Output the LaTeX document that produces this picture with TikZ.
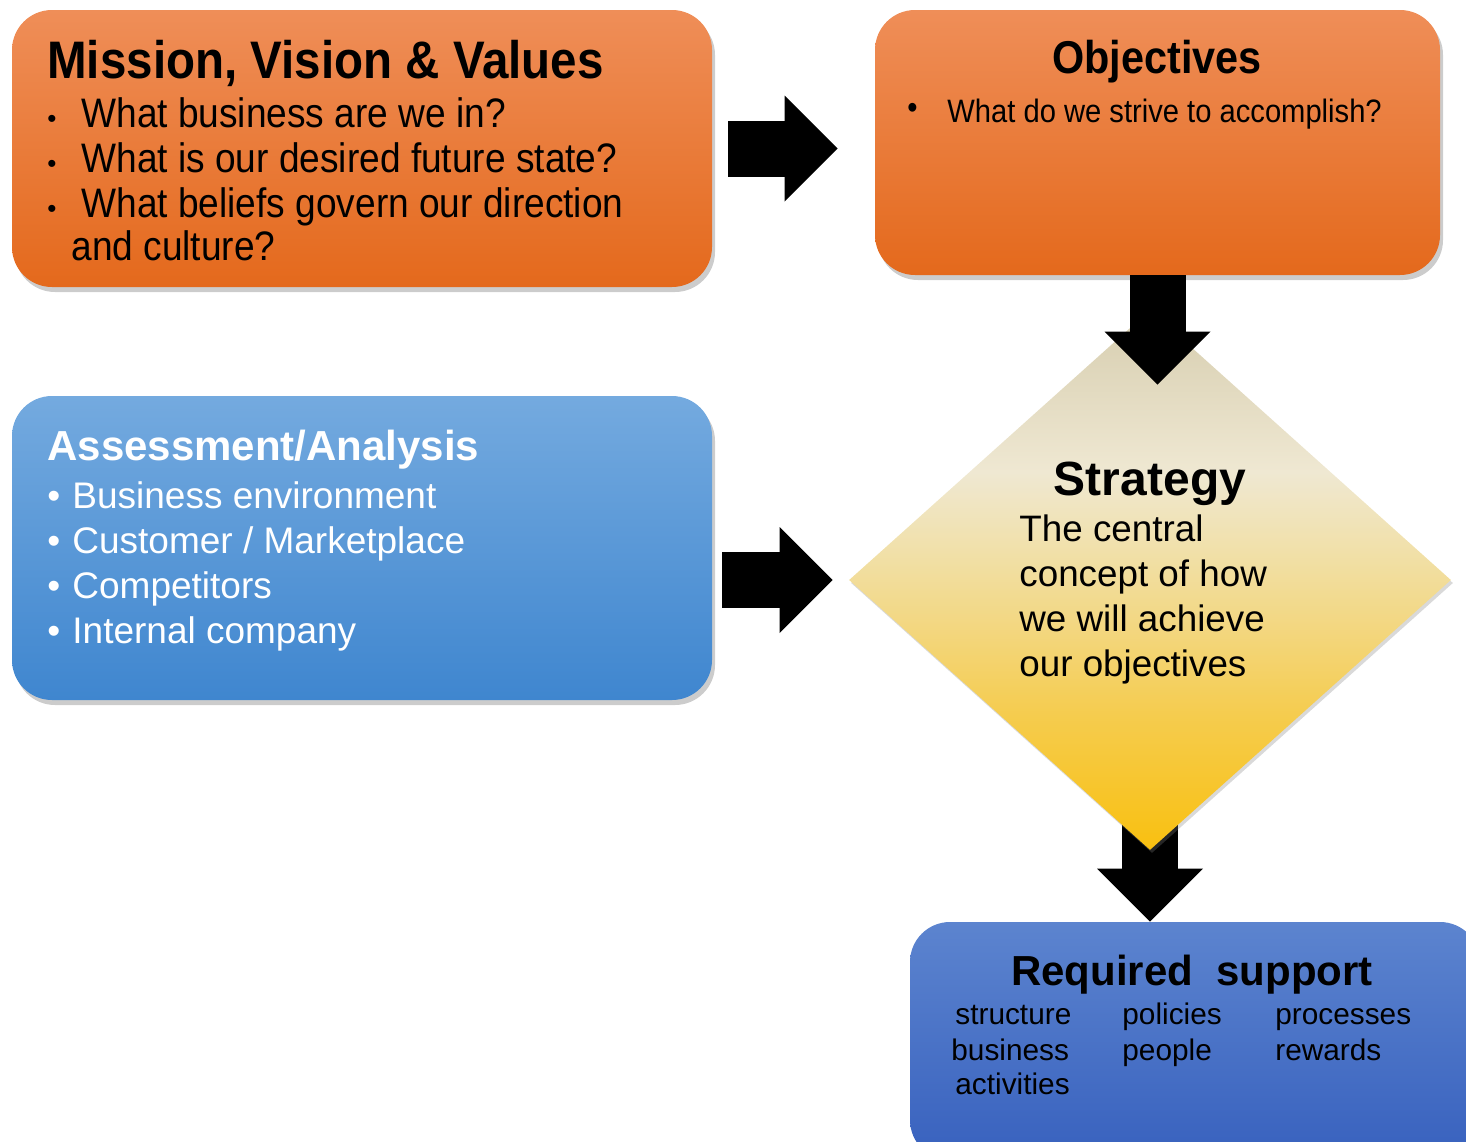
\documentclass[tikz,border=0pt]{standalone}
\usepackage{fontspec}
\setmainfont{Liberation Sans}
\newfontfamily\narrowsans[FakeStretch=0.9]{Liberation Sans}
\usetikzlibrary{shapes.geometric, arrows.meta, shadows, backgrounds}
\definecolor{orangetop}{HTML}{EF8E58}
\definecolor{orangebot}{HTML}{E4691C}
\definecolor{bluetop}{HTML}{74AADF}
\definecolor{bluebot}{HTML}{3F86CF}
\definecolor{navytop}{HTML}{5C84CF}
\definecolor{navybot}{HTML}{3861BE}
\definecolor{beigetop}{HTML}{D6CDAF}
\definecolor{beigelight}{HTML}{EFE8D2}
\definecolor{beigemid}{HTML}{F1E0A8}
\definecolor{goldlight}{HTML}{F3D67C}
\definecolor{goldmid}{HTML}{F5CC4E}
\definecolor{goldbot}{HTML}{F9C010}
\pgfdeclareverticalshading{stratfill}{100bp}{
    color(0bp)=(goldbot); color(25bp)=(goldbot); color(37.5bp)=(goldmid);
    color(45bp)=(goldlight); color(52.5bp)=(beigemid); color(60bp)=(beigelight);
    color(75bp)=(beigetop); color(100bp)=(beigetop)}
\tikzset{
    box/.style={rectangle, rounded corners=20pt, inner sep=0pt,
        drop shadow={shadow xshift=1.5pt, shadow yshift=-2.5pt, opacity=0.4}},
    orangebox/.style={box, top color=orangetop, bottom color=orangebot},
    bluebox/.style={box, top color=bluetop, bottom color=bluebot},
    navybox/.style={box, top color=navytop, bottom color=navybot},
    stratshape/.style={diamond, inner sep=0pt, minimum width=301pt, minimum height=270pt,
        shading=stratfill,
        drop shadow={shadow xshift=1pt, shadow yshift=-1.5pt, opacity=0.3}},
    bigarrow/.style={line width=28pt, -{Triangle[width=53pt, length=26.5pt, line width=0pt]}},
    txt/.style={inner sep=0pt, anchor=base west},
    mvtext/.style={txt, font=\narrowsans\fontsize{20.6}{24}\selectfont},
    objtext/.style={txt, font=\narrowsans\fontsize{16.2}{19}\selectfont},
    aatext/.style={txt, text=white, font=\fontsize{18.5}{22}\selectfont},
    sttext/.style={txt, font=\fontsize{18.4}{22}\selectfont},
    rstext/.style={txt, font=\fontsize{14.9}{18}\selectfont},
}

\begin{document}
\begin{tikzpicture}[x=0.5pt, y=-0.5pt]
    \useasboundingbox (0,0) rectangle (1466,1141);
    \clip (0,0) rectangle (1466,1141);

    % boxes
    \node[orangebox, minimum width=350pt, minimum height=138.5pt] (mission) at (362,148.5) {};
    \node[orangebox, minimum width=282.5pt, minimum height=132.5pt] (objectives) at (1157.5,142.5) {};
    \node[bluebox, minimum width=350pt, minimum height=152pt] (assess) at (362,548) {};
    \node[navybox, minimum width=285pt, minimum height=119pt] (support) at (1195,1041) {};
    \node[stratshape] (strat) at (1150,580) {};

    % arrows
    \draw[bigarrow, shorten <=8pt, shorten >=18.5pt] (mission.east) -- (mission.east -| objectives.west);
    \draw[bigarrow, shorten <=5pt, shorten >=8pt] (strat.west -| assess.east) -- (strat.west);
    \draw[bigarrow, shorten >=-37.5pt] (objectives.south) -- (objectives.south |- strat.north);
    \begin{scope}[on background layer]
        \draw[bigarrow, shorten <=-12.5pt] (strat.south) -- (strat.south |- support.north);
    \end{scope}

    % Mission, Vision & Values
    \node[txt, font=\narrowsans\bfseries\fontsize{26.4}{30}\selectfont] (mvTitle) at (47,78) {Mission, Vision \& Values};
    \foreach \yy/\txt [count=\i] in {127/What business are we in?, 172/What is our desired future state?, 217/What beliefs govern our direction}{
        \node[txt, font=\fontsize{13}{15}\selectfont] (mvDot\i) at (47,\yy) {\textbullet};
        \node[mvtext] (mvItem\i) at (81,\yy) {\txt};
    }
    \node[mvtext] (mvItem4) at (71,260) {and culture?};

    % Objectives
    \node[anchor=base, inner sep=0pt, font=\narrowsans\bfseries\fontsize{23}{27}\selectfont] (objTitle) at (1157,73) {Objectives};
    \node[objtext] (objDot) at (907,118) {\textbullet};
    \node[objtext] (objItem) at (947,122) {What do we strive to accomplish?};

    % Assessment/Analysis
    \node[txt, text=white, font=\bfseries\fontsize{21}{25}\selectfont] (aaTitle) at (47,460) {Assessment/Analysis};
    \foreach \yy/\txt [count=\i] in {508/Business environment, 553/{Customer / Marketplace}, 598/Competitors, 643/Internal company}{
        \node[aatext] (aaDot\i) at (47,\yy) {\textbullet};
        \node[aatext] (aaItem\i) at (72,\yy) {\txt};
    }

    % Strategy
    \node[anchor=base, inner sep=0pt, font=\bfseries\fontsize{24}{28}\selectfont] (stTitle) at (1150,495) {Strategy};
    \foreach \yy/\txt [count=\i] in {541/The central, 586/concept of how, 631/we will achieve, 676/our objectives}{
        \node[sttext] (stLine\i) at (1019,\yy) {\txt};
    }

    % Required support
    \node[anchor=base, inner sep=0pt, font=\bfseries\fontsize{21}{25}\selectfont] (rsTitle) at (1192,985) {Required\ \ support};
    \node[rstext] (rsA1) at (955,1024) {structure};
    \node[rstext] (rsA2) at (951,1060) {business};
    \node[rstext] (rsA3) at (955,1094) {activities};
    \node[rstext] (rsB1) at (1122,1024) {policies};
    \node[rstext] (rsB2) at (1122,1060) {people};
    \node[rstext] (rsC1) at (1275,1024) {processes};
    \node[rstext] (rsC2) at (1275,1060) {rewards};
\end{tikzpicture}
\end{document}
